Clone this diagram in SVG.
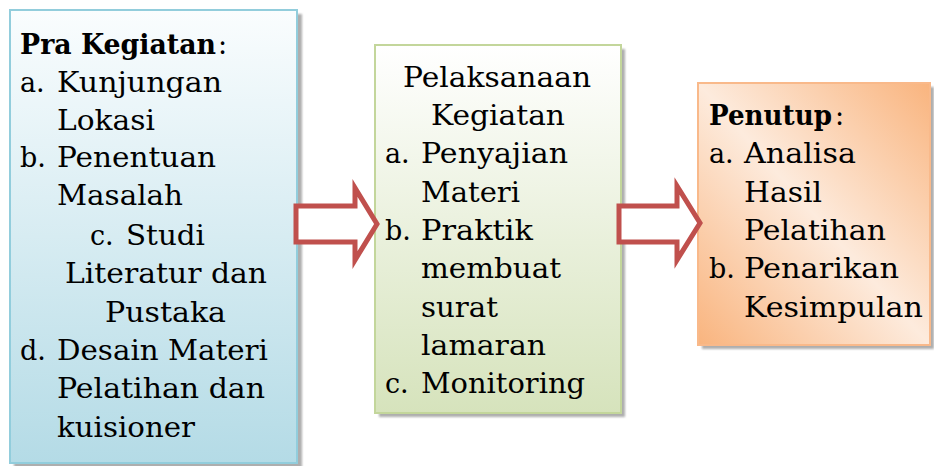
<svg xmlns="http://www.w3.org/2000/svg" width="934" height="466" viewBox="0 0 934 466">
<defs>
<linearGradient id="gBlue" x1="0" y1="0" x2="0" y2="1">
<stop offset="0" stop-color="#fafdfe"/>
<stop offset="1" stop-color="#b4dbe6"/>
</linearGradient>
<linearGradient id="gGreen" x1="0" y1="0" x2="0" y2="1">
<stop offset="0" stop-color="#ffffff"/>
<stop offset="1" stop-color="#d6e3bc"/>
</linearGradient>
<linearGradient id="gOrange" x1="1" y1="0" x2="0" y2="1">
<stop offset="0" stop-color="#f9b47e"/>
<stop offset="0.5" stop-color="#fdebdd"/>
<stop offset="1" stop-color="#f9b47e"/>
</linearGradient>
<filter id="blur" x="-5%" y="-5%" width="110%" height="110%"><feGaussianBlur stdDeviation="1.2"/></filter>
<style>
text{font-family:"DejaVu Serif","Liberation Serif",serif;font-size:27px;fill:#000}
.b{font-weight:bold}
.sh{fill:#8c8c8c;opacity:0.7;filter:url(#blur)}
.arrow{fill:#ffffff;stroke:#c0504d;stroke-width:5;stroke-linejoin:miter}
</style>
</defs>
<rect width="934" height="466" fill="#ffffff"/>
<g id="node-pra">
<rect class="sh" x="14" y="14" width="288" height="455"/>
<rect x="10" y="10" width="287" height="453" fill="url(#gBlue)" stroke="#92cddc" stroke-width="2"/>
<text x="20" y="54" class="b" textLength="196" lengthAdjust="spacingAndGlyphs">Pra Kegiatan</text><text x="218" y="54">:</text>
<text x="20" y="92">a.</text><text x="57" y="92" textLength="165" lengthAdjust="spacingAndGlyphs">Kunjungan</text>
<text x="57" y="130" textLength="98" lengthAdjust="spacingAndGlyphs">Lokasi</text>
<text x="20" y="167">b.</text><text x="57" y="167" textLength="159" lengthAdjust="spacingAndGlyphs">Penentuan</text>
<text x="57" y="205" textLength="126" lengthAdjust="spacingAndGlyphs">Masalah</text>
<text x="90" y="245">c.</text><text x="126" y="245" textLength="79" lengthAdjust="spacingAndGlyphs">Studi</text>
<text x="65" y="283" textLength="202" lengthAdjust="spacingAndGlyphs">Literatur dan</text>
<text x="105" y="322" textLength="121" lengthAdjust="spacingAndGlyphs">Pustaka</text>
<text x="20" y="360">d.</text><text x="57" y="360" textLength="211" lengthAdjust="spacingAndGlyphs">Desain Materi</text>
<text x="57" y="398" textLength="208" lengthAdjust="spacingAndGlyphs">Pelatihan dan</text>
<text x="57" y="437" textLength="138" lengthAdjust="spacingAndGlyphs">kuisioner</text>
</g>
<g id="node-pelaksanaan">
<rect class="sh" x="379" y="49" width="246" height="368"/>
<rect x="375" y="45" width="246" height="368" fill="url(#gGreen)" stroke="#c3d69b" stroke-width="2"/>
<text x="403" y="87" textLength="188" lengthAdjust="spacingAndGlyphs">Pelaksanaan</text>
<text x="431" y="125" textLength="134" lengthAdjust="spacingAndGlyphs">Kegiatan</text>
<text x="385" y="163">a.</text><text x="421" y="163" textLength="147" lengthAdjust="spacingAndGlyphs">Penyajian</text>
<text x="421" y="202" textLength="99" lengthAdjust="spacingAndGlyphs">Materi</text>
<text x="385" y="240">b.</text><text x="421" y="240" textLength="112" lengthAdjust="spacingAndGlyphs">Praktik</text>
<text x="421" y="278" textLength="140" lengthAdjust="spacingAndGlyphs">membuat</text>
<text x="421" y="317" textLength="77" lengthAdjust="spacingAndGlyphs">surat</text>
<text x="421" y="355" textLength="125" lengthAdjust="spacingAndGlyphs">lamaran</text>
<text x="385" y="393">c.</text><text x="421" y="393" textLength="164" lengthAdjust="spacingAndGlyphs">Monitoring</text>
</g>
<g id="node-penutup">
<rect class="sh" x="702" y="87" width="232" height="262"/>
<rect x="698" y="83" width="232" height="262" fill="url(#gOrange)" stroke="#f9b98a" stroke-width="2"/>
<text x="709" y="125" class="b" textLength="123" lengthAdjust="spacingAndGlyphs">Penutup</text><text x="835" y="125">:</text>
<text x="709" y="163">a.</text><text x="744" y="163" textLength="112" lengthAdjust="spacingAndGlyphs">Analisa</text>
<text x="744" y="202" textLength="78" lengthAdjust="spacingAndGlyphs">Hasil</text>
<text x="744" y="240" textLength="142" lengthAdjust="spacingAndGlyphs">Pelatihan</text>
<text x="709" y="278">b.</text><text x="744" y="278" textLength="155" lengthAdjust="spacingAndGlyphs">Penarikan</text>
<text x="744" y="317" textLength="179" lengthAdjust="spacingAndGlyphs">Kesimpulan</text>
</g>
<g id="connectors">
<path class="arrow" d="M296,206 L355,206 L355,188 L377,224 L355,260 L355,242 L296,242 Z"/>
<path class="arrow" d="M619,206 L677,206 L677,186 L700,223 L677,260 L677,242 L619,242 Z"/>
</g>
</svg>
